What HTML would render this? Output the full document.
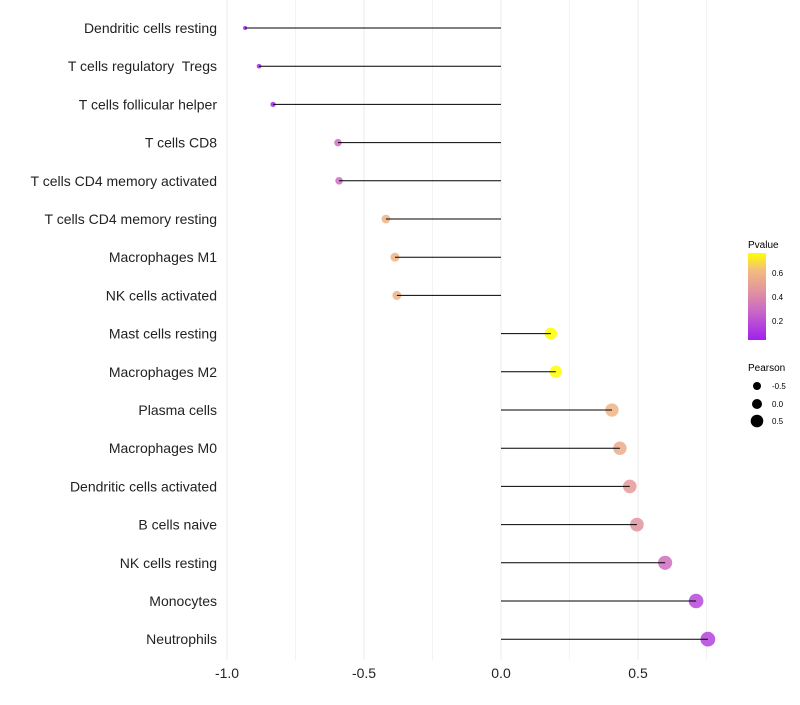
<!DOCTYPE html>
<html><head><meta charset="utf-8"><style>
body{margin:0;background:#fff;font-family:"Liberation Sans",sans-serif}
</style></head><body>
<svg id="chart" width="800" height="700" xmlns="http://www.w3.org/2000/svg">
<defs><linearGradient id="pg" x1="0" y1="1" x2="0" y2="0">
<stop offset="0" stop-color="#A020F0"/><stop offset="0.35" stop-color="#CC6CC4"/><stop offset="0.6" stop-color="#E59A98"/><stop offset="0.8" stop-color="#F2BC80"/><stop offset="1" stop-color="#FFFF00"/>
</linearGradient></defs>
<g id="grid"></g><g id="pts"></g><g id="marks"></g><g id="ylab"></g><g id="xlab"></g>
<g>
<text x="748" y="248" font-size="10">Pvalue</text>
<rect x="748" y="253" width="18" height="87" fill="url(#pg)"/>
<text x="772" y="276" font-size="8">0.6</text>
<text x="772" y="300" font-size="8">0.4</text>
<text x="772" y="324" font-size="8">0.2</text>
</g>
<g>
<text x="748" y="371" font-size="10">Pearson</text>
<circle cx="757" cy="386" r="4"/><text x="772" y="389" font-size="8">-0.5</text>
<circle cx="757" cy="404" r="5"/><text x="772" y="407" font-size="8">0.0</text>
<circle cx="757" cy="421" r="6.3"/><text x="772" y="424" font-size="8">0.5</text>
</g>
</svg>
<script>
const cells=["Dendritic cells resting","T cells regulatory  Tregs","T cells follicular helper","T cells CD8","T cells CD4 memory activated","T cells CD4 memory resting","Macrophages M1","NK cells activated","Mast cells resting","Macrophages M2","Plasma cells","Macrophages M0","Dendritic cells activated","B cells naive","NK cells resting","Monocytes","Neutrophils"];
const pearson=[-0.934,-0.883,-0.832,-0.595,-0.591,-0.42,-0.387,-0.38,0.182,0.20,0.405,0.434,0.47,0.496,0.599,0.712,0.755];
const pvalue=[0.03,0.06,0.07,0.3,0.3,0.58,0.58,0.58,0.758,0.755,0.58,0.54,0.47,0.44,0.3,0.16,0.15];
const xTicks=[-1,-0.5,0,0.5];
const xTickLabels=["-1.0","-0.5","0.0","0.5"];
const NS="http://www.w3.org/2000/svg";
const xs=v=>501+v*274;
const ys=i=>28+i*38.2;
const rs=v=>Math.sqrt(Math.max(4,32+30*v));
const stops=[[0,[160,32,240]],[0.35,[204,108,196]],[0.6,[229,154,152]],[0.8,[242,188,128]],[1,[255,255,0]]];
function col(p){let t=Math.max(0,Math.min(1,(p-0.033)/(0.758-0.033)));
 for(let k=1;k<stops.length;k++){if(t<=stops[k][0]){const a=stops[k-1],b=stops[k];const u=(t-a[0])/(b[0]-a[0]);
 return 'rgb('+a[1].map((x,j)=>Math.round(x+(b[1][j]-x)*u))+')';}}return 'rgb(255,255,0)';}
function mk(tag,at,par){const e=document.createElementNS(NS,tag);for(const k in at)e.setAttribute(k,at[k]);par.appendChild(e);return e;}
const grid=document.getElementById('grid'),pts=document.getElementById('pts'),marks=document.getElementById('marks'),yl=document.getElementById('ylab'),xl=document.getElementById('xlab');
for(let v=-1;v<=0.75;v+=0.25){const g=mk('line',{x1:xs(v),x2:xs(v),y1:0,y2:660,stroke:'#ebebeb','stroke-width':(Math.abs(v*2-Math.round(v*2))<1e-6)?1:0.6},grid);

}
xTicks.forEach((v,i)=>{const t=mk('text',{x:xs(v),y:678,'font-size':14,'text-anchor':'middle',fill:'#222'},xl);t.textContent=xTickLabels[i];

});
cells.forEach((c,i)=>{const y=ys(i);
const t=mk('text',{x:217,y:y+5,'font-size':14,'text-anchor':'end',fill:'#222','xml:space':'preserve',style:'white-space:pre'},yl);t.textContent=c;


const p=mk('circle',{cx:xs(pearson[i]),cy:y,r:rs(pearson[i]),fill:col(pvalue[i]),'fill-opacity':0.85},pts);


const l=mk('line',{x1:xs(0),x2:xs(pearson[i]),y1:y,y2:y,stroke:'#000','stroke-width':1},marks);

});
</script>
</body></html>
